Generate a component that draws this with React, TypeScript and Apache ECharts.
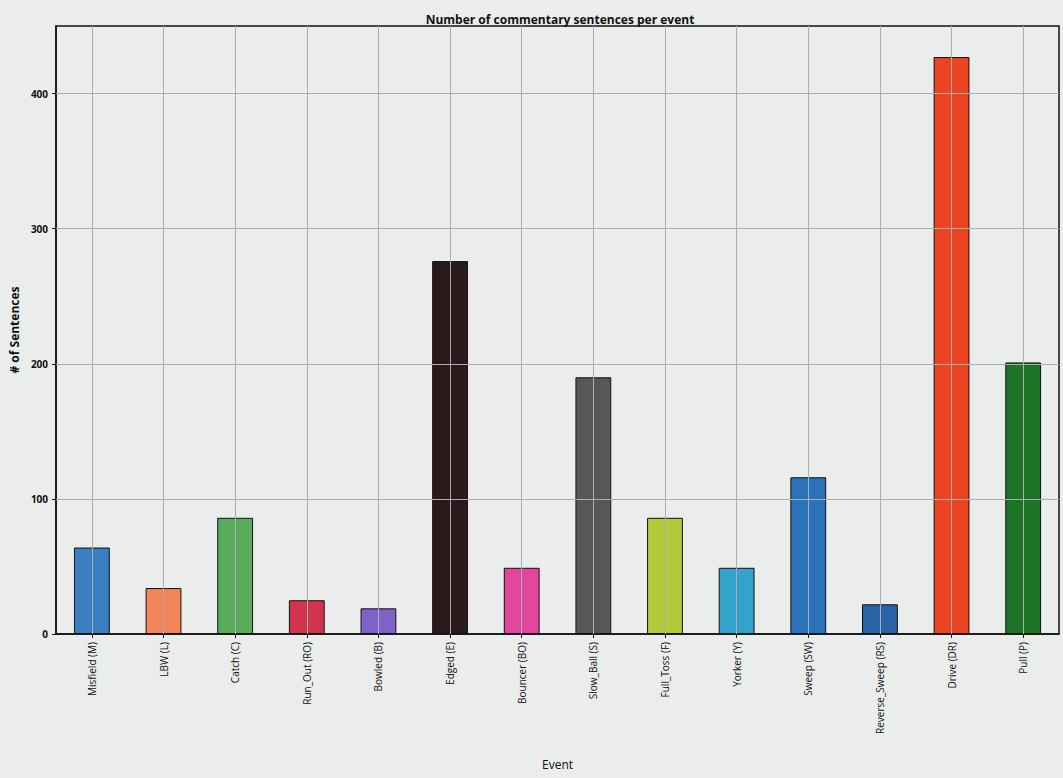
import React, { useEffect, useRef } from "react";
import * as echarts from "echarts";

const categories = [
  "Misfield (M)", "LBW (L)", "Catch (C)", "Run_Out (RO)", "Bowled (B)", "Edged (E)",
  "Bouncer (BO)", "Slow_Ball (S)", "Full_Toss (F)", "Yorker (Y)", "Sweep (SW)",
  "Reverse_Sweep (RS)", "Drive (DR)", "Pull (P)",
];
const values = [64, 34, 86, 25, 19, 276, 49, 190, 86, 49, 116, 22, 427, 201];
const barColors = [
  "#3b7fc2", "#f2845a", "#5aac5c", "#d2344e", "#7f62c6", "#2b1a1c", "#e2479c",
  "#555758", "#b3c93a", "#34a3cc", "#2c72ba", "#2a62a8", "#ea4422", "#1d7426",
];
const yTicks = [0, 100, 200, 300, 400];

export default function App() {
  const ref = useRef<HTMLDivElement>(null);
  useEffect(() => {
    if (!ref.current) return;
    const chart = echarts.init(ref.current, undefined, { renderer: "svg" });
    const font = "Open Sans";
    const gridLine = { color: "#a9aeb4", width: 1, type: "solid" as const };
    chart.setOption({
      animation: false,
      backgroundColor: "#ebecec",
      textStyle: { fontFamily: font },
      title: {
        text: "Number of commentary sentences per event",
        left: 555,
        textAlign: "center",
        top: 8,
        textStyle: { fontSize: 12, fontWeight: "bold", color: "#111", fontFamily: font },
      },
      grid: {
        left: 52, right: 4, top: 26, bottom: 144,
        show: true, borderColor: "#111", borderWidth: 1.5, backgroundColor: "transparent",
      },
      xAxis: {
        type: "category",
        data: categories,
        name: "Event",
        nameLocation: "middle",
        nameGap: 124,
        nameTextStyle: { fontSize: 12, color: "#111", fontFamily: font },
        axisLine: { lineStyle: { color: "#111", width: 1.5 } },
        axisTick: { show: true, alignWithLabel: true, length: 4, lineStyle: { color: "#111" } },
        axisLabel: { rotate: 90, fontSize: 10, color: "#111", margin: 8, interval: 0, fontFamily: font },
        splitLine: { show: false },
      },
      yAxis: {
        type: "value",
        min: 0,
        max: 450,
        interval: 100,
        name: "# of Sentences",
        nameLocation: "middle",
        nameGap: 34,
        nameTextStyle: { fontSize: 12, fontWeight: "bold", color: "#111", fontFamily: font },
        axisLine: { show: true, lineStyle: { color: "#111", width: 1.5 } },
        axisTick: { show: true, length: 4, lineStyle: { color: "#111" } },
        axisLabel: {
          fontSize: 10, color: "#111", fontWeight: "bold", margin: 8, showMaxLabel: false, fontFamily: font,
          formatter: (v: number) => (yTicks.includes(v) ? String(v) : ""),
        },
        splitLine: { show: false },
      },
      series: [
        {
          type: "bar",
          barWidth: "50%",
          data: values.map((v, i) => ({
            value: v,
            itemStyle: { color: barColors[i], borderColor: "#111", borderWidth: 1 },
          })),
          markLine: {
            silent: true,
            symbol: ["none", "none"],
            label: { show: false },
            lineStyle: gridLine,
            data: [
              ...categories.map((c) => ({ xAxis: c })),
              ...yTicks.filter((t) => t > 0).map((t) => ({ yAxis: t })),
            ],
          },
        },
      ],
    });
    return () => chart.dispose();
  }, []);
  return <div ref={ref} style={{ width: 1063, height: 778, position: "absolute", left: 0, top: 0 }} />;
}
